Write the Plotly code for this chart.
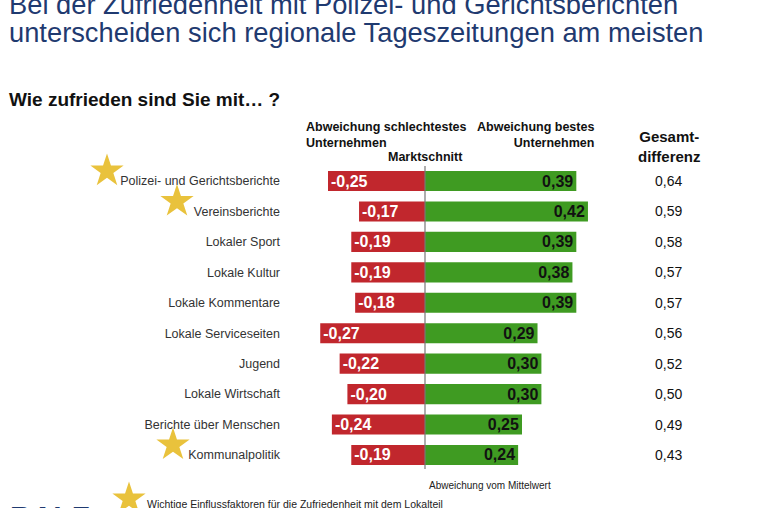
import plotly.graph_objects as go

W, H = 762, 508

categories = ["Polizei- und Gerichtsberichte", "Vereinsberichte", "Lokaler Sport", "Lokale Kultur",
              "Lokale Kommentare", "Lokale Serviceseiten", "Jugend", "Lokale Wirtschaft",
              "Berichte über Menschen", "Kommunalpolitik"]
worst = [-0.25, -0.17, -0.19, -0.19, -0.18, -0.27, -0.22, -0.20, -0.24, -0.19]
best = [0.39, 0.42, 0.39, 0.38, 0.39, 0.29, 0.30, 0.30, 0.25, 0.24]
total = [0.64, 0.59, 0.58, 0.57, 0.57, 0.56, 0.52, 0.50, 0.49, 0.43]
important = [True, True, False, False, False, False, False, False, False, True]

RED = "#C1272D"
GREEN = "#3F9B22"
NAVY = "#1F3A70"
STAR = "#E9C23C"


def de(v):
    return f"{v:.2f}".replace(".", ",")


def px(x):
    return x / W


def py(y):
    return 1 - y / H


rows = list(range(len(categories)))

fig = go.Figure()

# row centre in page pixels for star placement
def row_px(r):
    return 181 + r * 30.44

star_offsets = {0: 107, 1: 177, 9: 173}
sx = [star_offsets[r] for r, f in zip(rows, important) if f]
sy = [row_px(r) - 10 for r, f in zip(rows, important) if f]
sx.append(129)
sy.append(499)
fig.add_trace(go.Scatter(
    x=sx, y=sy, xaxis="x2", yaxis="y2", mode="markers", cliponaxis=False, showlegend=False,
    marker=dict(symbol="star", size=25, color=STAR, line=dict(width=0)), hoverinfo="skip",
))

fig.add_trace(go.Bar(
    y=rows, x=worst, orientation="h", marker=dict(color=RED, line=dict(width=0)),
    text=[de(v) for v in worst], textposition="inside", insidetextanchor="end",
    constraintext="none",
    textfont=dict(family="Liberation Sans, Arial", size=16, color="white", weight="bold"),
    width=0.66, showlegend=False,
))
fig.add_trace(go.Bar(
    y=rows, x=best, orientation="h", marker=dict(color=GREEN, line=dict(width=0)),
    text=[de(v) for v in best], textposition="inside", insidetextanchor="end",
    constraintext="none",
    textfont=dict(family="Liberation Sans, Arial", size=16, color="#111111", weight="bold"),
    width=0.66, showlegend=False,
))

fig.update_layout(
    width=W, height=H, margin=dict(l=0, r=0, t=0, b=0),
    paper_bgcolor="white", plot_bgcolor="rgba(0,0,0,0)",
    barmode="relative",
    xaxis=dict(domain=[px(300), px(620)], range=[-125 / 388, 195 / 388],
               showgrid=False, zeroline=False, showticklabels=False, ticks="", showline=False),
    yaxis=dict(domain=[py(470.2), py(165.8)], range=[9.5, -0.5],
               tickvals=rows, ticktext=categories, ticks="", ticklabelstandoff=19,
               tickfont=dict(family="Liberation Sans, Arial", size=12.5, color="#333333"),
               showgrid=False, zeroline=False, showline=False),
    xaxis2=dict(domain=[0, 1], range=[0, W], visible=False, anchor="y2"),
    yaxis2=dict(domain=[0, 1], range=[H, 0], visible=False, anchor="x2"),
    font=dict(family="Liberation Sans, Arial"),
)

# zero (market average) line
fig.add_shape(type="line", xref="x", yref="paper", x0=0, x1=0, y0=py(469), y1=py(166),
              line=dict(color="#777777", width=1.2))

ann = []
ann.append(dict(text="Bei der Zufriedenheit mit Polizei- und Gerichtsberichten", x=px(7), y=py(5),
                xanchor="left", yanchor="middle", font=dict(size=27.3, color=NAVY)))
ann.append(dict(text="unterscheiden sich regionale Tageszeitungen am meisten", x=px(7), y=py(32),
                xanchor="left", yanchor="middle", font=dict(size=27.3, color=NAVY)))
ann.append(dict(text="<b>Wie zufrieden sind Sie mit… ?</b>", x=px(7), y=py(100),
                xanchor="left", yanchor="middle", font=dict(size=19, color="#111111")))
ann.append(dict(text="<b>Abweichung schlechtestes<br>Unternehmen</b>", x=px(304), y=py(135),
                xanchor="left", yanchor="middle", align="left",
                font=dict(size=12.5, color="#111111")))
ann.append(dict(text="<b>Abweichung bestes<br>Unternehmen</b>", x=px(596), y=py(135),
                xanchor="right", yanchor="middle", align="right",
                font=dict(size=12.5, color="#111111")))
ann.append(dict(text="<b>Marktschnitt</b>", x=px(425), y=py(157),
                xanchor="center", yanchor="middle", font=dict(size=12.5, color="#111111")))
ann.append(dict(text="<b>Gesamt-<br>differenz</b>", x=px(669), y=py(147),
                xanchor="center", yanchor="middle", align="center",
                font=dict(size=15, color="#111111")))
for r, t in zip(rows, total):
    ann.append(dict(text=de(t), x=px(668), xref="paper", y=r, yref="y",
                    xanchor="center", yanchor="middle", font=dict(size=14, color="#111111")))
ann.append(dict(text="Abweichung vom Mittelwert", x=px(427), y=py(485),
                xanchor="left", yanchor="middle",
                font=dict(family="Liberation Sans Narrow, Arial Narrow, Liberation Sans", size=10, color="#222222")))
ann.append(dict(text="Wichtige Einflussfaktoren für die Zufriedenheit mit dem Lokalteil", x=px(145), y=py(504),
                xanchor="left", yanchor="middle",
                font=dict(family="Liberation Sans Narrow, Arial Narrow, Liberation Sans", size=10.5, color="#222222")))
ann.append(dict(text="<b>BALZ</b>", x=px(8), y=py(516),
                xanchor="left", yanchor="middle", font=dict(size=30, color=NAVY)))
for a in ann:
    a.setdefault("xref", "paper")
    a.setdefault("yref", "paper")
    a["showarrow"] = False
fig.update_layout(annotations=ann)

fig.write_html("out.html")
